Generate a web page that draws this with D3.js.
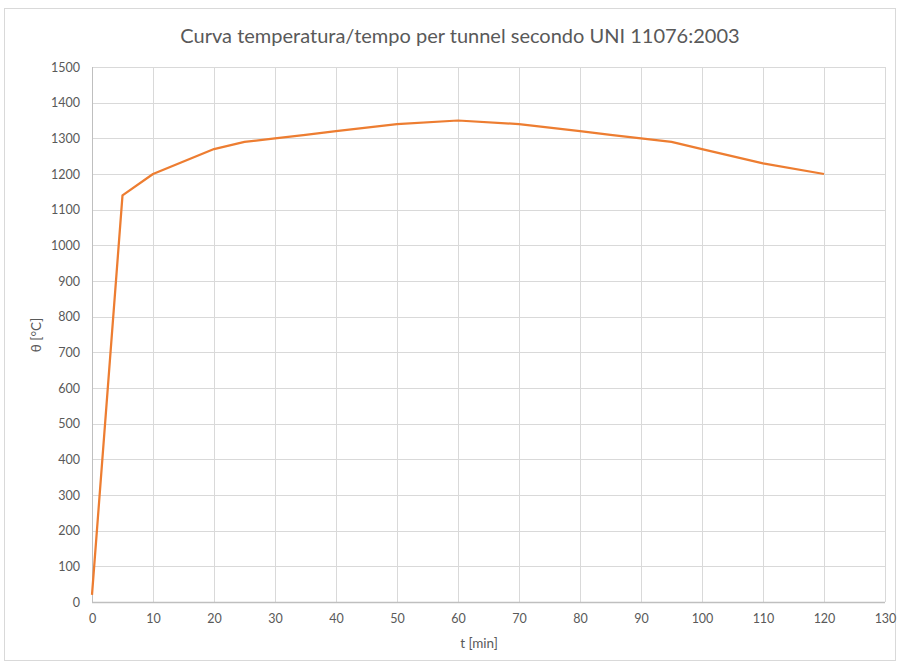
<!DOCTYPE html>
<html><head><meta charset="utf-8">
<script src="https://cdn.jsdelivr.net/npm/d3@7"></script>
<style>body{margin:0;background:#fff}svg{display:block}</style>
</head><body>
<script>
const times = [0,5,10,20,25,30,35,40,50,60,70,80,85,90,95,100,110,120];
const temps = [20,1140,1200,1270,1290,1300,1310,1320,1340,1350,1340,1320,1310,1300,1290,1270,1230,1200];
const xTicks = [0,10,20,30,40,50,60,70,80,90,100,110,120,130];
const yTicks = [0,100,200,300,400,500,600,700,800,900,1000,1100,1200,1300,1400,1500];
const title = "Curva temperatura/tempo per tunnel secondo UNI 11076:2003";
const xTitle = "t [min]";
const yTitle = "θ [°C]";

const W=899,H=665;
const font="Lato, 'Open Sans', sans-serif";
const svg=d3.select("body").append("svg").attr("width",W).attr("height",H);
svg.append("rect").attr("x",4.5).attr("y",8.5).attr("width",891).attr("height",652)
  .attr("fill","#fff").attr("stroke","#d9d9d9");
const x=d3.scaleLinear().domain([0,130]).range([92,885]);
const y=d3.scaleLinear().domain([0,1500]).range([602,67]);

const g=svg.append("g");
g.selectAll(".hg").data(yTicks.slice(1)).join("line")
  .attr("x1",x(0)).attr("x2",x(130)).attr("y1",d=>Math.round(y(d))+0.5).attr("y2",d=>Math.round(y(d))+0.5)
  .attr("stroke","#d9d9d9").attr("stroke-width",1);
g.selectAll(".vg").data(xTicks.slice(1)).join("line")
  .attr("y1",y(0)).attr("y2",y(1500)).attr("x1",d=>Math.round(x(d))+0.5).attr("x2",d=>Math.round(x(d))+0.5)
  .attr("stroke","#d9d9d9").attr("stroke-width",1);
g.append("line").attr("x1",x(0)+0.5).attr("x2",x(0)+0.5).attr("y1",y(0)).attr("y2",y(1500)).attr("stroke","#bfbfbf");
g.append("line").attr("x1",x(0)).attr("x2",x(130)).attr("y1",Math.round(y(0))+0.5).attr("y2",Math.round(y(0))+0.5).attr("stroke","#bfbfbf").attr("stroke-width",1.5);

const xAxis=d3.axisBottom(x).tickValues(xTicks).tickFormat(d3.format("d")).tickSize(0).tickPadding(12);
const ya=d3.axisLeft(y).tickValues(yTicks).tickFormat(d3.format("d")).tickSize(0).tickPadding(12);
const gx=svg.append("g").attr("transform",`translate(0,${y(0)})`).call(xAxis);
const gy=svg.append("g").attr("transform",`translate(${x(0)},0)`).call(ya);
[gx,gy].forEach(a=>{a.select(".domain").remove();a.selectAll("text").attr("fill","#595959").style("font-family",font).style("font-size","12.5px");});

svg.append("path").datum(times.map((t,i)=>[t,temps[i]]))
  .attr("d",d3.line().x(d=>x(d[0])).y(d=>y(d[1])))
  .attr("fill","none").attr("stroke","#ED7D31").attr("stroke-width",2.25).attr("stroke-linejoin","round");

svg.append("text").attr("x",460).attr("y",43).attr("text-anchor","middle").attr("fill","#595959")
  .style("font-family",font).style("font-size","20px").text(title);
svg.append("text").attr("x",479).attr("y",648).attr("text-anchor","middle").attr("fill","#595959")
  .style("font-family",font).style("font-size","13.5px").text(xTitle);
svg.append("text").attr("transform","translate(41,335) rotate(-90)").attr("text-anchor","middle").attr("fill","#595959")
  .style("font-family",font).style("font-size","13.5px").text(yTitle);
</script>
</body></html>
